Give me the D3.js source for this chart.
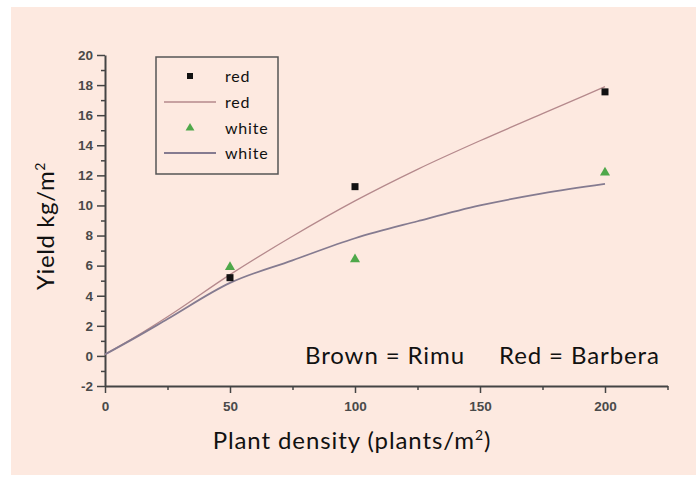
<!DOCTYPE html>
<html>
<head>
<meta charset="utf-8">
<script src="https://cdn.jsdelivr.net/npm/d3@7"></script>
<style>
  body { margin: 0; background: #ffffff; }
  svg { display: block; }
</style>
</head>
<body>
<div id="main"></div>
<script>
// measured points
const densities = [50, 100, 200];
const redYield = [5.2, 11.25, 17.55];
const whiteYield = [5.9, 6.42, 12.18];

// fitted curves
const fitDensity = [0, 12.5, 25, 50, 75, 100, 125, 150, 175, 200];
const redFit = [0.1, 1.3, 2.6, 5.4, 7.95, 10.3, 12.4, 14.3, 16.1, 17.9];
const whiteFit = [0.1, 1.25, 2.45, 4.85, 6.35, 7.82, 8.95, 10.0, 10.8, 11.43];

const xMajor = [0, 50, 100, 150, 200];
const xMinor = [25, 75, 125, 175, 225];
const yMajor = [-2, 0, 2, 4, 6, 8, 10, 12, 14, 16, 18, 20];
const yMinor = [-1, 1, 3, 5, 7, 9, 11, 13, 15, 17, 19];

const legendItems = ["red", "red", "white", "white"];

const width = 696;
const height = 477;
const bg = "#fde9e0";
const axisColor = "#444";
const redLine = "#b5898c";
const whiteLine = "#857b90";
const green = "#4fa84a";
const titleFont = "Lato, 'Open Sans', sans-serif";

const svg = d3.select("#main")
    .append("svg")
    .attr("width", width)
    .attr("height", height);

svg.append("rect")
    .attr("x", 11)
    .attr("y", 7)
    .attr("width", width - 11)
    .attr("height", height - 9)
    .attr("fill", bg);

const x = d3.scaleLinear().domain([0, 225]).range([105, 667.5]);
const y = d3.scaleLinear().domain([-2, 20]).range([386, 55]);

// axes
const styleAxis = g => {
    g.selectAll("path, line").attr("stroke", axisColor);
    g.select(".domain").attr("stroke-width", 2);
    g.selectAll(".tick line").attr("stroke-width", 1.5);
    g.selectAll("text")
        .attr("fill", "#4a4a4a")
        .attr("font-family", "'Liberation Sans', Arial, sans-serif")
        .attr("font-weight", "bold")
        .attr("font-size", 13.5);
};

svg.append("g")
    .attr("transform", `translate(0,${y(-2)})`)
    .call(d3.axisBottom(x).tickValues(xMinor).tickSize(4).tickSizeOuter(0).tickFormat(""))
    .call(styleAxis);

svg.append("g")
    .attr("transform", `translate(0,${y(-2)})`)
    .call(d3.axisBottom(x).tickValues(xMajor).tickSize(7).tickSizeOuter(0).tickPadding(8)
        .tickFormat(d => String(d)))
    .call(styleAxis)
    .select(".domain").remove();

svg.append("g")
    .attr("transform", `translate(${x(0)},0)`)
    .call(d3.axisLeft(y).tickValues(yMinor).tickSize(4).tickSizeOuter(0).tickFormat(""))
    .call(styleAxis);

svg.append("g")
    .attr("transform", `translate(${x(0)},0)`)
    .call(d3.axisLeft(y).tickValues(yMajor).tickSize(8).tickSizeOuter(0).tickPadding(4)
        .tickFormat(d => String(d)))
    .call(styleAxis)
    .select(".domain").remove();

// fitted curves
const line = d3.line()
    .x(d => x(d[0]))
    .y(d => y(d[1]))
    .curve(d3.curveMonotoneX);

svg.append("path")
    .datum(fitDensity.map((d, i) => [d, redFit[i]]))
    .attr("fill", "none")
    .attr("stroke", redLine)
    .attr("stroke-width", 1.3)
    .attr("d", line);

svg.append("path")
    .datum(fitDensity.map((d, i) => [d, whiteFit[i]]))
    .attr("fill", "none")
    .attr("stroke", whiteLine)
    .attr("stroke-width", 1.8)
    .attr("d", line);

// points
svg.append("g")
    .selectAll("rect")
    .data(densities)
    .join("rect")
    .attr("x", d => x(d) - 3.5)
    .attr("y", (d, i) => y(redYield[i]) - 3.5)
    .attr("width", 7)
    .attr("height", 7)
    .attr("fill", "#111");

const triangle = d3.symbol().type(d3.symbolTriangle).size(44);

svg.append("g")
    .selectAll("path")
    .data(densities)
    .join("path")
    .attr("transform", (d, i) => `translate(${x(d)},${y(whiteYield[i])})`)
    .attr("d", triangle)
    .attr("fill", green);

// legend
const legend = svg.append("g").attr("id", "legend");

legend.append("rect")
    .attr("x", 156)
    .attr("y", 57)
    .attr("width", 122)
    .attr("height", 117)
    .attr("fill", "none")
    .attr("stroke", "#555")
    .attr("stroke-width", 1.5);

const rowY = [76, 102, 128, 153];

legend.append("rect")
    .attr("x", 187)
    .attr("y", rowY[0] - 3)
    .attr("width", 6)
    .attr("height", 6)
    .attr("fill", "#111");

legend.append("line")
    .attr("x1", 164).attr("x2", 216)
    .attr("y1", rowY[1]).attr("y2", rowY[1])
    .attr("stroke", redLine)
    .attr("stroke-width", 1.3);

legend.append("path")
    .attr("transform", `translate(190,${rowY[2]})`)
    .attr("d", d3.symbol().type(d3.symbolTriangle).size(34))
    .attr("fill", green);

legend.append("line")
    .attr("x1", 164).attr("x2", 216)
    .attr("y1", rowY[3]).attr("y2", rowY[3])
    .attr("stroke", whiteLine)
    .attr("stroke-width", 2);

legend.selectAll("text")
    .data(legendItems)
    .join("text")
    .attr("x", 225)
    .attr("y", (d, i) => rowY[i])
    .attr("dy", "0.35em")
    .attr("font-family", titleFont)
    .attr("font-size", 16)
    .attr("letter-spacing", 0.8)
    .attr("fill", "#111")
    .text(d => d);

// titles
const xTitle = svg.append("text")
    .attr("x", 352)
    .attr("y", 449)
    .attr("text-anchor", "middle")
    .attr("font-family", titleFont)
    .attr("font-size", 24)
    .attr("letter-spacing", 0.9)
    .attr("fill", "#111");
xTitle.append("tspan").text("Plant density (plants/m");
xTitle.append("tspan").attr("dy", -9).attr("font-size", 14).text("2");
xTitle.append("tspan").attr("dy", 9).text(")");

const yTitle = svg.append("text")
    .attr("transform", "translate(54,226) rotate(-90)")
    .attr("text-anchor", "middle")
    .attr("font-family", titleFont)
    .attr("font-size", 24)
    .attr("letter-spacing", 0.6)
    .attr("fill", "#111");
yTitle.append("tspan").text("Yield kg/m");
yTitle.append("tspan").attr("dy", -9).attr("font-size", 14).text("2");

svg.append("text")
    .attr("x", 305)
    .attr("y", 364)
    .attr("font-family", titleFont)
    .attr("font-size", 24)
    .attr("letter-spacing", 0.9)
    .attr("fill", "#111")
    .text("Brown = Rimu");

svg.append("text")
    .attr("x", 499)
    .attr("y", 364)
    .attr("font-family", titleFont)
    .attr("font-size", 24)
    .attr("letter-spacing", 0.9)
    .attr("fill", "#111")
    .text("Red = Barbera");
</script>
</body>
</html>
